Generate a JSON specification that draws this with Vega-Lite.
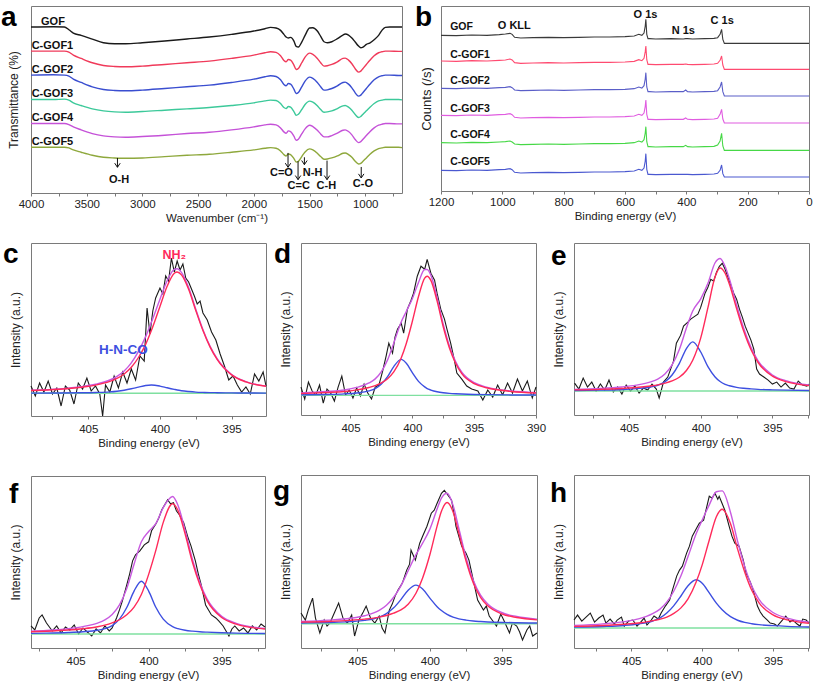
{
"$schema":"https://vega.github.io/schema/vega-lite/v6.json",
"background":"white",
"padding":{"left":0,"top":3,"right":0,"bottom":0},
"config":{
"font":"Liberation Sans",
"view":{"stroke":"#7a7a7a","strokeWidth":1},
"axisX":{"domain":false,"grid":false,"tickSize":3,"tickColor":"#777","labelFontSize":11.5,"labelColor":"#222","labelPadding":4,"titlePadding":3,"titleFontSize":11.5,"titleFontWeight":"normal","titleColor":"#222","labelFlush":false,"labelOverlap":false,"format":"d"},
"axisY":{"domain":false,"grid":false,"labels":false,"ticks":false,"titlePadding":9,"titleFontSize":12,"titleFontWeight":"normal","titleColor":"#222"}
},
"datasets":{
"ftir":[
{"w":4000,"G":497,"C1":425,"C2":353,"C3":280,"C4":208,"C5":137},
{"w":3800,"G":498,"C1":425,"C2":354,"C3":280,"C4":208,"C5":137},
{"w":3700,"G":497,"C1":425,"C2":353,"C3":281,"C4":208,"C5":137},
{"w":3660,"G":489,"C1":422,"C2":350,"C3":278,"C4":205,"C5":135},
{"w":3620,"G":479,"C1":413,"C2":341,"C3":270,"C4":198,"C5":129},
{"w":3550,"G":472,"C1":403,"C2":331,"C3":262,"C4":189,"C5":122},
{"w":3450,"G":461,"C1":390,"C2":318,"C3":252,"C4":178,"C5":113},
{"w":3350,"G":450,"C1":382,"C2":310,"C3":246,"C4":171,"C5":107},
{"w":3250,"G":447,"C1":379,"C2":307,"C3":243,"C4":168,"C5":105},
{"w":3150,"G":447,"C1":378,"C2":306,"C3":242,"C4":167,"C5":104},
{"w":3000,"G":450,"C1":380,"C2":308,"C3":244,"C4":169,"C5":105},
{"w":2800,"G":455,"C1":385,"C2":313,"C3":248,"C4":173,"C5":109},
{"w":2600,"G":461,"C1":390,"C2":318,"C3":252,"C4":178,"C5":113},
{"w":2400,"G":467,"C1":395,"C2":323,"C3":256,"C4":182,"C5":116},
{"w":2200,"G":475,"C1":403,"C2":331,"C3":262,"C4":189,"C5":122},
{"w":2000,"G":485,"C1":413,"C2":341,"C3":270,"C4":198,"C5":129},
{"w":1900,"G":492,"C1":420,"C2":348,"C3":276,"C4":204,"C5":134},
{"w":1850,"G":496,"C1":423,"C2":351,"C3":278,"C4":206,"C5":136},
{"w":1800,"G":494,"C1":421,"C2":349,"C3":277,"C4":204,"C5":134},
{"w":1760,"G":487,"C1":411,"C2":339,"C3":268,"C4":195,"C5":126},
{"w":1730,"G":475,"C1":397,"C2":325,"C3":256,"C4":183,"C5":115},
{"w":1710,"G":467,"C1":393,"C2":321,"C3":253,"C4":179,"C5":111},
{"w":1690,"G":464,"C1":400,"C2":328,"C3":259,"C4":186,"C5":117},
{"w":1670,"G":466,"C1":398,"C2":326,"C3":257,"C4":184,"C5":115},
{"w":1640,"G":455,"C1":383,"C2":311,"C3":244,"C4":170,"C5":103},
{"w":1620,"G":439,"C1":370,"C2":298,"C3":233,"C4":158,"C5":93},
{"w":1600,"G":437,"C1":373,"C2":301,"C3":236,"C4":161,"C5":95},
{"w":1570,"G":452,"C1":390,"C2":318,"C3":250,"C4":177,"C5":109},
{"w":1540,"G":472,"C1":407,"C2":335,"C3":265,"C4":192,"C5":123},
{"w":1500,"G":494,"C1":419,"C2":347,"C3":275,"C4":203,"C5":132},
{"w":1470,"G":495,"C1":415,"C2":343,"C3":272,"C4":199,"C5":129},
{"w":1430,"G":485,"C1":403,"C2":331,"C3":261,"C4":188,"C5":119},
{"w":1400,"G":469,"C1":390,"C2":318,"C3":250,"C4":177,"C5":109},
{"w":1370,"G":453,"C1":380,"C2":308,"C3":242,"C4":168,"C5":101},
{"w":1340,"G":450,"C1":381,"C2":309,"C3":243,"C4":168,"C5":102},
{"w":1300,"G":453,"C1":385,"C2":313,"C3":246,"C4":172,"C5":105},
{"w":1250,"G":462,"C1":393,"C2":321,"C3":253,"C4":179,"C5":111},
{"w":1200,"G":473,"C1":403,"C2":331,"C3":261,"C4":188,"C5":119},
{"w":1180,"G":476,"C1":404,"C2":332,"C3":262,"C4":189,"C5":120},
{"w":1150,"G":473,"C1":398,"C2":326,"C3":257,"C4":184,"C5":115},
{"w":1120,"G":464,"C1":387,"C2":315,"C3":248,"C4":174,"C5":107},
{"w":1090,"G":452,"C1":372,"C2":300,"C3":235,"C4":160,"C5":95},
{"w":1060,"G":440,"C1":362,"C2":290,"C3":226,"C4":151,"C5":87},
{"w":1040,"G":435,"C1":365,"C2":293,"C3":229,"C4":154,"C5":89},
{"w":1020,"G":437,"C1":373,"C2":301,"C3":236,"C4":161,"C5":95},
{"w":990,"G":445,"C1":385,"C2":313,"C3":246,"C4":172,"C5":105},
{"w":960,"G":449,"C1":397,"C2":325,"C3":256,"C4":183,"C5":115},
{"w":920,"G":459,"C1":411,"C2":339,"C3":268,"C4":195,"C5":126},
{"w":880,"G":472,"C1":420,"C2":348,"C3":276,"C4":203,"C5":133},
{"w":850,"G":487,"C1":423,"C2":351,"C3":278,"C4":206,"C5":135},
{"w":820,"G":496,"C1":425,"C2":353,"C3":280,"C4":208,"C5":137},
{"w":780,"G":497,"C1":425,"C2":353,"C3":280,"C4":208,"C5":137},
{"w":700,"G":497,"C1":424,"C2":352,"C3":280,"C4":207,"C5":137},
{"w":670,"G":497,"C1":424,"C2":352,"C3":279,"C4":207,"C5":136}
],
"lblA":[
{"w":3910,"t":503,"n":"GOF"},{"w":3994,"t":432,"n":"C-GOF1"},{"w":3994,"t":360,"n":"C-GOF2"},{"w":3994,"t":287,"n":"C-GOF3"},{"w":3994,"t":215,"n":"C-GOF4"},{"w":3994,"t":145,"n":"C-GOF5"}
],
"arrA":[
{"w":3224,"t":105,"t2":77},{"w":1693,"t":120,"t2":77},{"w":1603,"t":95,"t2":40},{"w":1546,"t":107,"t2":85},{"w":1343,"t":97,"t2":40},{"w":1036,"t":78,"t2":45}
],
"headA":[
{"w":3224,"t":77},{"w":1693,"t":77},{"w":1603,"t":40},{"w":1546,"t":85},{"w":1343,"t":40},{"w":1036,"t":45}
],
"albA":[
{"w":3210,"t":29,"n":"O-H"},{"w":1752,"t":50,"n":"C=O"},{"w":1597,"t":12,"n":"C=C"},{"w":1472,"t":50,"n":"N-H"},{"w":1349,"t":12,"n":"C-H"},{"w":1021,"t":19,"n":"C-O"}
],
"xps":[
{"e":1200,"G":467,"C1":390,"C2":308,"C3":227,"C4":145,"C5":62},
{"e":1150,"G":466,"C1":389,"C2":307,"C3":226,"C4":144,"C5":61},
{"e":1100,"G":468,"C1":391,"C2":309,"C3":228,"C4":146,"C5":63},
{"e":1050,"G":467,"C1":390,"C2":308,"C3":227,"C4":145,"C5":62},
{"e":1010,"G":469,"C1":392,"C2":310,"C3":229,"C4":147,"C5":64},
{"e":990,"G":471,"C1":393,"C2":311,"C3":230,"C4":148,"C5":65},
{"e":975,"G":473,"C1":396,"C2":313,"C3":232,"C4":150,"C5":67},
{"e":968,"G":470,"C1":393,"C2":310,"C3":229,"C4":147,"C5":64},
{"e":960,"G":461,"C1":385,"C2":303,"C3":221,"C4":141,"C5":56},
{"e":940,"G":459,"C1":383,"C2":301,"C3":219,"C4":139,"C5":54},
{"e":900,"G":460,"C1":384,"C2":302,"C3":220,"C4":140,"C5":55},
{"e":850,"G":461,"C1":385,"C2":303,"C3":221,"C4":141,"C5":56},
{"e":800,"G":460,"C1":384,"C2":302,"C3":220,"C4":140,"C5":55},
{"e":750,"G":461,"C1":385,"C2":303,"C3":221,"C4":141,"C5":56},
{"e":700,"G":462,"C1":386,"C2":304,"C3":222,"C4":142,"C5":57},
{"e":650,"G":462,"C1":386,"C2":304,"C3":222,"C4":142,"C5":57},
{"e":600,"G":463,"C1":387,"C2":305,"C3":223,"C4":143,"C5":58},
{"e":570,"G":465,"C1":389,"C2":307,"C3":225,"C4":145,"C5":60},
{"e":555,"G":470,"C1":394,"C2":312,"C3":230,"C4":150,"C5":65},
{"e":545,"G":467,"C1":391,"C2":309,"C3":227,"C4":147,"C5":62},
{"e":538,"G":474,"C1":398,"C2":316,"C3":234,"C4":154,"C5":69},
{"e":534,"G":495,"C1":418,"C2":336,"C3":254,"C4":174,"C5":90},
{"e":532,"G":515,"C1":435,"C2":355,"C3":273,"C4":193,"C5":112},
{"e":529,"G":470,"C1":394,"C2":312,"C3":230,"C4":148,"C5":65},
{"e":525,"G":457,"C1":380,"C2":298,"C3":215,"C4":133,"C5":50},
{"e":520,"G":457,"C1":380,"C2":298,"C3":215,"C4":133,"C5":50},
{"e":500,"G":456,"C1":379,"C2":297,"C3":214,"C4":132,"C5":49},
{"e":450,"G":457,"C1":380,"C2":298,"C3":215,"C4":133,"C5":50},
{"e":410,"G":456,"C1":380,"C2":298,"C3":215,"C4":133,"C5":50},
{"e":402,"G":457,"C1":381,"C2":303,"C3":219,"C4":137,"C5":50},
{"e":396,"G":457,"C1":380,"C2":298,"C3":215,"C4":133,"C5":50},
{"e":380,"G":456,"C1":379,"C2":297,"C3":214,"C4":132,"C5":49},
{"e":340,"G":457,"C1":380,"C2":298,"C3":215,"C4":133,"C5":50},
{"e":310,"G":458,"C1":381,"C2":299,"C3":216,"C4":134,"C5":51},
{"e":298,"G":460,"C1":383,"C2":301,"C3":218,"C4":138,"C5":53},
{"e":290,"G":470,"C1":392,"C2":312,"C3":230,"C4":150,"C5":62},
{"e":285,"G":485,"C1":405,"C2":327,"C3":245,"C4":173,"C5":78},
{"e":281,"G":455,"C1":378,"C2":298,"C3":216,"C4":135,"C5":52},
{"e":276,"G":443,"C1":365,"C2":285,"C3":204,"C4":122,"C5":42},
{"e":250,"G":443,"C1":365,"C2":285,"C3":204,"C4":122,"C5":42},
{"e":200,"G":443,"C1":365,"C2":285,"C3":204,"C4":122,"C5":42},
{"e":100,"G":443,"C1":365,"C2":285,"C3":204,"C4":122,"C5":42},
{"e":0,"G":443,"C1":365,"C2":285,"C3":204,"C4":122,"C5":42}
],
"lblB":[
{"e":1170,"t":482,"n":"GOF"},{"e":1170,"t":400,"n":"C-GOF1"},{"e":1170,"t":320,"n":"C-GOF2"},{"e":1170,"t":238,"n":"C-GOF3"},{"e":1170,"t":158,"n":"C-GOF4"},{"e":1170,"t":77,"n":"C-GOF5"}
],
"pkB":[
{"e":961,"t":485,"n":"O KLL"},{"e":533,"t":520,"n":"O 1s"},{"e":410,"t":470,"n":"N 1s"},{"e":283,"t":502,"n":"C 1s"}
],
"fit":[
{"p":"c","e":409,"s":25.7,"r":25.5,"b":22.9,"g":22.7},
{"p":"c","e":407,"s":27.1,"r":26.8,"b":23.0,"g":22.7},
{"p":"c","e":405.5,"s":29.3,"r":28.8,"b":23.2,"g":22.7},
{"p":"c","e":404.5,"s":31.7,"r":30.9,"b":23.5,"g":22.7},
{"p":"c","e":403.5,"s":36.0,"r":34.6,"b":24.1,"g":22.7},
{"p":"c","e":403,"s":39.7,"r":37.6,"b":24.8,"g":22.7},
{"p":"c","e":402.5,"s":45.1,"r":42.0,"b":25.8,"g":22.7},
{"p":"c","e":402,"s":53.2,"r":48.7,"b":27.2,"g":22.7},
{"p":"c","e":401.5,"s":64.7,"r":58.5,"b":28.9,"g":22.7},
{"p":"c","e":401,"s":79.4,"r":71.6,"b":30.5,"g":22.7},
{"p":"c","e":400.6,"s":93.7,"r":85.4,"b":31.0,"g":22.7},
{"p":"c","e":400,"s":116.8,"r":109.6,"b":29.9,"g":22.7},
{"p":"c","e":399.5,"s":135.2,"r":129.7,"b":28.2,"g":22.7},
{"p":"c","e":399,"s":146.7,"r":142.8,"b":26.6,"g":22.7},
{"p":"c","e":398.8,"s":147.3,"r":144.0,"b":26.0,"g":22.7},
{"p":"c","e":398.5,"s":143.7,"r":141.1,"b":25.3,"g":22.7},
{"p":"c","e":398,"s":128.5,"r":126.7,"b":24.5,"g":22.7},
{"p":"c","e":397.5,"s":106.7,"r":105.5,"b":23.9,"g":22.7},
{"p":"c","e":397,"s":86.3,"r":85.4,"b":23.6,"g":22.7},
{"p":"c","e":396.5,"s":69.6,"r":68.9,"b":23.4,"g":22.7},
{"p":"c","e":396,"s":57.0,"r":56.4,"b":23.3,"g":22.7},
{"p":"c","e":395,"s":41.5,"r":41.1,"b":23.1,"g":22.7},
{"p":"c","e":394,"s":34.4,"r":34.1,"b":23.0,"g":22.7},
{"p":"c","e":392.6,"s":29.9,"r":29.7,"b":22.9,"g":22.7},
{"p":"d","e":409,"s":22.0,"r":21.5,"b":20.2,"g":19.7},
{"p":"d","e":407,"s":23.5,"r":22.6,"b":20.6,"g":19.7},
{"p":"d","e":405.5,"s":25.1,"r":23.6,"b":21.2,"g":19.7},
{"p":"d","e":404.5,"s":27.6,"r":25.2,"b":22.1,"g":19.7},
{"p":"d","e":403.5,"s":32.1,"r":27.6,"b":24.2,"g":19.7},
{"p":"d","e":403,"s":36.2,"r":29.4,"b":26.5,"g":19.7},
{"p":"d","e":402.5,"s":43.5,"r":32.1,"b":31.1,"g":19.7},
{"p":"d","e":402,"s":55.2,"r":36.4,"b":38.5,"g":19.7},
{"p":"d","e":401.5,"s":72.0,"r":43.2,"b":48.5,"g":19.7},
{"p":"d","e":400.9,"s":93.2,"r":57.2,"b":55.7,"g":19.7},
{"p":"d","e":400.5,"s":103.5,"r":71.2,"b":52.0,"g":19.7},
{"p":"d","e":400,"s":116.5,"r":93.7,"b":42.5,"g":19.7},
{"p":"d","e":399.5,"s":132.7,"r":118.7,"b":33.7,"g":19.7},
{"p":"d","e":399,"s":145.7,"r":137.2,"b":28.2,"g":19.7},
{"p":"d","e":398.8,"s":145.8,"r":139.0,"b":26.5,"g":19.7},
{"p":"d","e":398.5,"s":140.1,"r":134.8,"b":25.0,"g":19.7},
{"p":"d","e":398,"s":117.9,"r":114.3,"b":23.3,"g":19.7},
{"p":"d","e":397.5,"s":91.0,"r":88.4,"b":22.3,"g":19.7},
{"p":"d","e":397,"s":69.2,"r":67.2,"b":21.7,"g":19.7},
{"p":"d","e":396.5,"s":53.5,"r":51.9,"b":21.3,"g":19.7},
{"p":"d","e":396,"s":42.8,"r":41.5,"b":21.0,"g":19.7},
{"p":"d","e":395,"s":32.4,"r":31.5,"b":20.6,"g":19.7},
{"p":"d","e":394,"s":28.0,"r":27.3,"b":20.4,"g":19.7},
{"p":"d","e":392,"s":24.0,"r":23.6,"b":20.1,"g":19.7},
{"p":"d","e":390,"s":22.4,"r":22.1,"b":20.0,"g":19.7},
{"p":"e","e":408.8,"s":25.7,"r":25.2,"b":24.5,"g":24},
{"p":"e","e":407,"s":26.6,"r":25.7,"b":24.9,"g":24},
{"p":"e","e":405.5,"s":28.1,"r":26.6,"b":25.5,"g":24},
{"p":"e","e":404.5,"s":29.9,"r":27.5,"b":26.4,"g":24},
{"p":"e","e":403.5,"s":33.1,"r":29.1,"b":28.0,"g":24},
{"p":"e","e":403,"s":36.0,"r":30.2,"b":29.8,"g":24},
{"p":"e","e":402.5,"s":41.1,"r":31.9,"b":33.2,"g":24},
{"p":"e","e":402,"s":50.2,"r":34.1,"b":40.1,"g":24},
{"p":"e","e":401.5,"s":65.3,"r":37.8,"b":51.5,"g":24},
{"p":"e","e":401,"s":87.1,"r":44.6,"b":66.5,"g":24},
{"p":"e","e":400.56,"s":104.2,"r":54.9,"b":73.3,"g":24},
{"p":"e","e":400,"s":116.4,"r":77.3,"b":63.1,"g":24},
{"p":"e","e":399.5,"s":131.9,"r":107.5,"b":48.4,"g":24},
{"p":"e","e":399,"s":152.5,"r":138.4,"b":38.1,"g":24},
{"p":"e","e":398.65,"s":156.8,"r":147.3,"b":33.5,"g":24},
{"p":"e","e":398.3,"s":148.8,"r":142.1,"b":30.7,"g":24},
{"p":"e","e":398,"s":136.2,"r":130.9,"b":29.3,"g":24},
{"p":"e","e":397.5,"s":110.3,"r":106.6,"b":27.7,"g":24},
{"p":"e","e":397,"s":86.6,"r":83.8,"b":26.8,"g":24},
{"p":"e","e":396.5,"s":67.8,"r":65.6,"b":26.2,"g":24},
{"p":"e","e":396,"s":54.3,"r":52.6,"b":25.7,"g":24},
{"p":"e","e":395,"s":40.1,"r":38.9,"b":25.2,"g":24},
{"p":"e","e":394,"s":34.1,"r":33.2,"b":24.9,"g":24},
{"p":"e","e":392.45,"s":30.0,"r":29.4,"b":24.6,"g":24},
{"p":"f","e":408.06,"s":16.8,"r":16.2,"b":14.6,"g":14},
{"p":"f","e":407,"s":17.5,"r":16.7,"b":14.8,"g":14},
{"p":"f","e":405.5,"s":19.3,"r":17.9,"b":15.4,"g":14},
{"p":"f","e":404.5,"s":21.4,"r":19.2,"b":16.2,"g":14},
{"p":"f","e":403.5,"s":24.9,"r":21.2,"b":17.7,"g":14},
{"p":"f","e":403,"s":28.1,"r":22.8,"b":19.3,"g":14},
{"p":"f","e":402.5,"s":33.5,"r":25.1,"b":22.4,"g":14},
{"p":"f","e":402,"s":43.0,"r":28.2,"b":28.8,"g":14},
{"p":"f","e":401.5,"s":59.5,"r":33.1,"b":40.4,"g":14},
{"p":"f","e":401,"s":83.6,"r":40.8,"b":56.8,"g":14},
{"p":"f","e":400.5,"s":106.1,"r":53.4,"b":66.7,"g":14},
{"p":"f","e":400,"s":116.3,"r":73.5,"b":56.8,"g":14},
{"p":"f","e":399.5,"s":124.3,"r":97.9,"b":40.4,"g":14},
{"p":"f","e":399,"s":140.2,"r":125.4,"b":28.8,"g":14},
{"p":"f","e":398.36,"s":151.3,"r":144.0,"b":21.3,"g":14},
{"p":"f","e":398,"s":142.8,"r":137.5,"b":19.3,"g":14},
{"p":"f","e":397.5,"s":117.4,"r":113.7,"b":17.7,"g":14},
{"p":"f","e":397,"s":88.4,"r":85.6,"b":16.8,"g":14},
{"p":"f","e":396.5,"s":65.7,"r":63.5,"b":16.2,"g":14},
{"p":"f","e":396,"s":49.1,"r":47.3,"b":15.8,"g":14},
{"p":"f","e":395,"s":31.6,"r":30.4,"b":15.2,"g":14},
{"p":"f","e":394,"s":24.6,"r":23.8,"b":14.8,"g":14},
{"p":"f","e":392.03,"s":19.4,"r":18.9,"b":14.5,"g":14},
{"p":"g","e":408.9,"s":26.6,"r":25.9,"b":25.0,"g":24.3},
{"p":"g","e":407,"s":27.9,"r":26.6,"b":25.6,"g":24.3},
{"p":"g","e":405.5,"s":29.8,"r":27.7,"b":26.4,"g":24.3},
{"p":"g","e":404.5,"s":32.3,"r":28.9,"b":27.7,"g":24.3},
{"p":"g","e":403.5,"s":37.6,"r":30.9,"b":31.0,"g":24.3},
{"p":"g","e":403,"s":42.8,"r":32.6,"b":34.5,"g":24.3},
{"p":"g","e":402.5,"s":50.8,"r":34.9,"b":40.2,"g":24.3},
{"p":"g","e":402,"s":62.3,"r":38.1,"b":48.5,"g":24.3},
{"p":"g","e":401.5,"s":77.4,"r":43.8,"b":57.9,"g":24.3},
{"p":"g","e":400.96,"s":93.5,"r":54.8,"b":63.0,"g":24.3},
{"p":"g","e":400.5,"s":105.0,"r":70.2,"b":59.1,"g":24.3},
{"p":"g","e":400,"s":119.1,"r":93.4,"b":50.0,"g":24.3},
{"p":"g","e":399.5,"s":139.2,"r":122.1,"b":41.4,"g":24.3},
{"p":"g","e":399.2,"s":150.2,"r":137.0,"b":37.5,"g":24.3},
{"p":"g","e":398.81,"s":155.0,"r":145.7,"b":33.6,"g":24.3},
{"p":"g","e":398.4,"s":143.1,"r":136.5,"b":30.9,"g":24.3},
{"p":"g","e":398,"s":120.0,"r":115.1,"b":29.2,"g":24.3},
{"p":"g","e":397.5,"s":90.7,"r":87.1,"b":27.9,"g":24.3},
{"p":"g","e":397,"s":67.9,"r":65.2,"b":27.0,"g":24.3},
{"p":"g","e":396.5,"s":53.0,"r":50.8,"b":26.5,"g":24.3},
{"p":"g","e":396,"s":44.1,"r":42.3,"b":26.1,"g":24.3},
{"p":"g","e":395,"s":35.3,"r":34.0,"b":25.6,"g":24.3},
{"p":"g","e":394,"s":31.6,"r":30.6,"b":25.3,"g":24.3},
{"p":"g","e":392.6,"s":28.9,"r":28.2,"b":25.0,"g":24.3},
{"p":"h","e":409.05,"s":22.7,"r":21.7,"b":21.0,"g":20},
{"p":"h","e":407,"s":24.2,"r":22.6,"b":21.6,"g":20},
{"p":"h","e":405.5,"s":26.4,"r":23.8,"b":22.6,"g":20},
{"p":"h","e":404.5,"s":29.1,"r":25.0,"b":24.1,"g":20},
{"p":"h","e":403.5,"s":34.4,"r":27.4,"b":27.0,"g":20},
{"p":"h","e":403,"s":38.7,"r":28.8,"b":29.9,"g":20},
{"p":"h","e":402.5,"s":45.9,"r":30.9,"b":35.0,"g":20},
{"p":"h","e":402,"s":57.1,"r":34.6,"b":42.5,"g":20},
{"p":"h","e":401.5,"s":72.3,"r":40.2,"b":52.1,"g":20},
{"p":"h","e":401,"s":91.6,"r":49.2,"b":62.4,"g":20},
{"p":"h","e":400.42,"s":114.6,"r":66.3,"b":68.3,"g":20},
{"p":"h","e":400,"s":128.1,"r":83.3,"b":64.8,"g":20},
{"p":"h","e":399.5,"s":143.4,"r":108.2,"b":55.2,"g":20},
{"p":"h","e":399,"s":156.5,"r":131.5,"b":45.0,"g":20},
{"p":"h","e":398.59,"s":157.4,"r":139.0,"b":38.4,"g":20},
{"p":"h","e":398,"s":135.8,"r":124.4,"b":31.4,"g":20},
{"p":"h","e":397.5,"s":106.8,"r":99.0,"b":27.8,"g":20},
{"p":"h","e":397,"s":81.8,"r":76.2,"b":25.6,"g":20},
{"p":"h","e":396.5,"s":62.1,"r":57.8,"b":24.3,"g":20},
{"p":"h","e":396,"s":48.9,"r":45.5,"b":23.4,"g":20},
{"p":"h","e":395,"s":35.6,"r":33.2,"b":22.4,"g":20},
{"p":"h","e":394,"s":29.9,"r":28.2,"b":21.7,"g":20},
{"p":"h","e":392.46,"s":25.9,"r":24.8,"b":21.1,"g":20}
],
"raw":[
{"p":"c","e":409.0,"v":30},{"p":"c","e":408.7,"v":20},{"p":"c","e":408.4,"v":33},{"p":"c","e":408.1,"v":24},{"p":"c","e":407.8,"v":35},{"p":"c","e":407.5,"v":22},{"p":"c","e":407.2,"v":28},{"p":"c","e":406.9,"v":10},{"p":"c","e":406.6,"v":30},{"p":"c","e":406.3,"v":26},{"p":"c","e":406.0,"v":12},{"p":"c","e":405.7,"v":33},{"p":"c","e":405.4,"v":27},{"p":"c","e":405.1,"v":38},{"p":"c","e":404.8,"v":25},{"p":"c","e":404.5,"v":30},{"p":"c","e":404.2,"v":22},{"p":"c","e":404.0,"v":0},{"p":"c","e":403.8,"v":31},{"p":"c","e":403.5,"v":24},{"p":"c","e":403.2,"v":40},{"p":"c","e":402.9,"v":28},{"p":"c","e":402.6,"v":44},{"p":"c","e":402.3,"v":33},{"p":"c","e":402.0,"v":47},{"p":"c","e":401.7,"v":36},{"p":"c","e":401.4,"v":60},{"p":"c","e":401.1,"v":55},{"p":"c","e":400.9,"v":108},{"p":"c","e":400.7,"v":82},{"p":"c","e":400.5,"v":105},{"p":"c","e":400.3,"v":118},{"p":"c","e":400.0,"v":128},{"p":"c","e":399.8,"v":122},{"p":"c","e":399.6,"v":140},{"p":"c","e":399.4,"v":135},{"p":"c","e":399.2,"v":158},{"p":"c","e":399.0,"v":144},{"p":"c","e":398.8,"v":155},{"p":"c","e":398.6,"v":146},{"p":"c","e":398.4,"v":152},{"p":"c","e":398.2,"v":138},{"p":"c","e":398.0,"v":134},{"p":"c","e":397.8,"v":127},{"p":"c","e":397.6,"v":120},{"p":"c","e":397.4,"v":112},{"p":"c","e":397.2,"v":115},{"p":"c","e":397.0,"v":103},{"p":"c","e":396.7,"v":96},{"p":"c","e":396.4,"v":84},{"p":"c","e":396.1,"v":76},{"p":"c","e":395.8,"v":62},{"p":"c","e":395.5,"v":50},{"p":"c","e":395.2,"v":36},{"p":"c","e":394.9,"v":40},{"p":"c","e":394.6,"v":31},{"p":"c","e":394.3,"v":24},{"p":"c","e":394.0,"v":29},{"p":"c","e":393.7,"v":22},{"p":"c","e":393.4,"v":42},{"p":"c","e":393.1,"v":35},{"p":"c","e":392.8,"v":44},{"p":"c","e":392.6,"v":30},
{"p":"d","e":409.0,"v":28},{"p":"d","e":408.7,"v":16},{"p":"d","e":408.4,"v":33},{"p":"d","e":408.1,"v":24},{"p":"d","e":407.8,"v":20},{"p":"d","e":407.5,"v":30},{"p":"d","e":407.2,"v":12},{"p":"d","e":406.9,"v":26},{"p":"d","e":406.6,"v":22},{"p":"d","e":406.3,"v":14},{"p":"d","e":406.0,"v":28},{"p":"d","e":405.7,"v":39},{"p":"d","e":405.4,"v":20},{"p":"d","e":405.1,"v":25},{"p":"d","e":404.8,"v":17},{"p":"d","e":404.5,"v":27},{"p":"d","e":404.2,"v":19},{"p":"d","e":403.9,"v":31},{"p":"d","e":403.6,"v":22},{"p":"d","e":403.3,"v":16},{"p":"d","e":403.0,"v":28},{"p":"d","e":402.7,"v":30},{"p":"d","e":402.4,"v":44},{"p":"d","e":402.1,"v":60},{"p":"d","e":401.9,"v":72},{"p":"d","e":401.6,"v":62},{"p":"d","e":401.4,"v":78},{"p":"d","e":401.2,"v":86},{"p":"d","e":400.9,"v":92},{"p":"d","e":400.7,"v":82},{"p":"d","e":400.4,"v":106},{"p":"d","e":400.1,"v":115},{"p":"d","e":399.9,"v":122},{"p":"d","e":399.6,"v":139},{"p":"d","e":399.3,"v":149},{"p":"d","e":399.0,"v":146},{"p":"d","e":398.8,"v":156},{"p":"d","e":398.5,"v":142},{"p":"d","e":398.2,"v":135},{"p":"d","e":398.0,"v":122},{"p":"d","e":397.7,"v":106},{"p":"d","e":397.4,"v":96},{"p":"d","e":397.2,"v":86},{"p":"d","e":396.9,"v":72},{"p":"d","e":396.6,"v":55},{"p":"d","e":396.4,"v":42},{"p":"d","e":396.0,"v":36},{"p":"d","e":395.6,"v":29},{"p":"d","e":395.2,"v":26},{"p":"d","e":394.7,"v":24},{"p":"d","e":394.3,"v":15},{"p":"d","e":393.9,"v":25},{"p":"d","e":393.5,"v":18},{"p":"d","e":393.1,"v":30},{"p":"d","e":392.7,"v":20},{"p":"d","e":392.3,"v":32},{"p":"d","e":391.9,"v":22},{"p":"d","e":391.5,"v":36},{"p":"d","e":391.1,"v":24},{"p":"d","e":390.7,"v":34},{"p":"d","e":390.3,"v":17},{"p":"d","e":390.0,"v":28},
{"p":"e","e":408.8,"v":32},{"p":"e","e":408.5,"v":26},{"p":"e","e":408.2,"v":37},{"p":"e","e":407.9,"v":28},{"p":"e","e":407.6,"v":33},{"p":"e","e":407.3,"v":24},{"p":"e","e":407.0,"v":31},{"p":"e","e":406.7,"v":25},{"p":"e","e":406.4,"v":35},{"p":"e","e":406.1,"v":23},{"p":"e","e":405.8,"v":28},{"p":"e","e":405.5,"v":21},{"p":"e","e":405.2,"v":30},{"p":"e","e":404.9,"v":24},{"p":"e","e":404.6,"v":29},{"p":"e","e":404.3,"v":22},{"p":"e","e":404.0,"v":27},{"p":"e","e":403.7,"v":25},{"p":"e","e":403.4,"v":31},{"p":"e","e":403.1,"v":26},{"p":"e","e":402.9,"v":17},{"p":"e","e":402.6,"v":33},{"p":"e","e":402.3,"v":38},{"p":"e","e":402.1,"v":46},{"p":"e","e":401.9,"v":54},{"p":"e","e":401.7,"v":72},{"p":"e","e":401.4,"v":80},{"p":"e","e":401.2,"v":89},{"p":"e","e":400.9,"v":93},{"p":"e","e":400.7,"v":96},{"p":"e","e":400.4,"v":99},{"p":"e","e":400.2,"v":101},{"p":"e","e":400.0,"v":108},{"p":"e","e":399.7,"v":122},{"p":"e","e":399.5,"v":128},{"p":"e","e":399.3,"v":136},{"p":"e","e":399.1,"v":134},{"p":"e","e":398.9,"v":143},{"p":"e","e":398.7,"v":149},{"p":"e","e":398.5,"v":152},{"p":"e","e":398.3,"v":146},{"p":"e","e":398.1,"v":138},{"p":"e","e":397.9,"v":130},{"p":"e","e":397.7,"v":122},{"p":"e","e":397.5,"v":116},{"p":"e","e":397.3,"v":106},{"p":"e","e":397.1,"v":98},{"p":"e","e":396.9,"v":89},{"p":"e","e":396.7,"v":82},{"p":"e","e":396.5,"v":75},{"p":"e","e":396.3,"v":66},{"p":"e","e":396.1,"v":46},{"p":"e","e":395.9,"v":41},{"p":"e","e":395.6,"v":38},{"p":"e","e":395.3,"v":35},{"p":"e","e":395.0,"v":31},{"p":"e","e":394.7,"v":33},{"p":"e","e":394.4,"v":28},{"p":"e","e":394.1,"v":32},{"p":"e","e":393.8,"v":27},{"p":"e","e":393.5,"v":26},{"p":"e","e":393.2,"v":34},{"p":"e","e":392.9,"v":30},{"p":"e","e":392.6,"v":29},{"p":"e","e":392.45,"v":31},
{"p":"f","e":408.06,"v":22},{"p":"f","e":407.8,"v":18},{"p":"f","e":407.5,"v":30},{"p":"f","e":407.3,"v":33},{"p":"f","e":407.0,"v":25},{"p":"f","e":406.8,"v":21},{"p":"f","e":406.6,"v":17},{"p":"f","e":406.3,"v":22},{"p":"f","e":406.0,"v":15},{"p":"f","e":405.7,"v":21},{"p":"f","e":405.4,"v":18},{"p":"f","e":405.1,"v":23},{"p":"f","e":404.8,"v":14},{"p":"f","e":404.5,"v":20},{"p":"f","e":404.2,"v":16},{"p":"f","e":403.9,"v":12},{"p":"f","e":403.6,"v":19},{"p":"f","e":403.3,"v":15},{"p":"f","e":403.0,"v":22},{"p":"f","e":402.7,"v":17},{"p":"f","e":402.5,"v":20},{"p":"f","e":402.2,"v":30},{"p":"f","e":402.0,"v":38},{"p":"f","e":401.8,"v":47},{"p":"f","e":401.5,"v":63},{"p":"f","e":401.3,"v":74},{"p":"f","e":401.1,"v":87},{"p":"f","e":400.9,"v":93},{"p":"f","e":400.6,"v":97},{"p":"f","e":400.3,"v":103},{"p":"f","e":400.0,"v":106},{"p":"f","e":399.8,"v":117},{"p":"f","e":399.5,"v":124},{"p":"f","e":399.3,"v":130},{"p":"f","e":399.1,"v":138},{"p":"f","e":398.9,"v":143},{"p":"f","e":398.7,"v":148},{"p":"f","e":398.5,"v":144},{"p":"f","e":398.3,"v":145},{"p":"f","e":398.1,"v":137},{"p":"f","e":397.9,"v":133},{"p":"f","e":397.6,"v":125},{"p":"f","e":397.3,"v":110},{"p":"f","e":397.1,"v":102},{"p":"f","e":396.8,"v":87},{"p":"f","e":396.6,"v":74},{"p":"f","e":396.4,"v":63},{"p":"f","e":396.1,"v":43},{"p":"f","e":395.9,"v":38},{"p":"f","e":395.7,"v":33},{"p":"f","e":395.4,"v":30},{"p":"f","e":395.2,"v":27},{"p":"f","e":394.9,"v":22},{"p":"f","e":394.7,"v":17},{"p":"f","e":394.5,"v":12},{"p":"f","e":394.3,"v":19},{"p":"f","e":394.1,"v":22},{"p":"f","e":393.8,"v":17},{"p":"f","e":393.5,"v":20},{"p":"f","e":393.2,"v":15},{"p":"f","e":392.9,"v":22},{"p":"f","e":392.6,"v":18},{"p":"f","e":392.3,"v":24},{"p":"f","e":392.03,"v":21},
{"p":"g","e":408.9,"v":35},{"p":"g","e":408.6,"v":28},{"p":"g","e":408.4,"v":38},{"p":"g","e":408.1,"v":50},{"p":"g","e":407.9,"v":30},{"p":"g","e":407.6,"v":15},{"p":"g","e":407.3,"v":28},{"p":"g","e":407.1,"v":22},{"p":"g","e":406.9,"v":25},{"p":"g","e":406.6,"v":35},{"p":"g","e":406.3,"v":45},{"p":"g","e":406.0,"v":30},{"p":"g","e":405.7,"v":25},{"p":"g","e":405.4,"v":33},{"p":"g","e":405.2,"v":12},{"p":"g","e":404.9,"v":28},{"p":"g","e":404.6,"v":36},{"p":"g","e":404.4,"v":42},{"p":"g","e":404.1,"v":30},{"p":"g","e":403.8,"v":25},{"p":"g","e":403.5,"v":32},{"p":"g","e":403.3,"v":20},{"p":"g","e":403.1,"v":15},{"p":"g","e":402.8,"v":38},{"p":"g","e":402.6,"v":44},{"p":"g","e":402.4,"v":52},{"p":"g","e":402.2,"v":58},{"p":"g","e":401.9,"v":65},{"p":"g","e":401.6,"v":78},{"p":"g","e":401.4,"v":84},{"p":"g","e":401.3,"v":98},{"p":"g","e":401.0,"v":88},{"p":"g","e":400.7,"v":105},{"p":"g","e":400.5,"v":112},{"p":"g","e":400.2,"v":122},{"p":"g","e":399.9,"v":135},{"p":"g","e":399.7,"v":138},{"p":"g","e":399.5,"v":145},{"p":"g","e":399.2,"v":155},{"p":"g","e":399.0,"v":158},{"p":"g","e":398.7,"v":152},{"p":"g","e":398.5,"v":148},{"p":"g","e":398.3,"v":132},{"p":"g","e":398.2,"v":122},{"p":"g","e":397.8,"v":102},{"p":"g","e":397.5,"v":95},{"p":"g","e":397.3,"v":88},{"p":"g","e":397.0,"v":68},{"p":"g","e":396.7,"v":48},{"p":"g","e":396.3,"v":38},{"p":"g","e":396.1,"v":42},{"p":"g","e":395.9,"v":32},{"p":"g","e":395.6,"v":26},{"p":"g","e":395.4,"v":22},{"p":"g","e":395.1,"v":34},{"p":"g","e":394.9,"v":28},{"p":"g","e":394.5,"v":15},{"p":"g","e":394.3,"v":25},{"p":"g","e":394.0,"v":22},{"p":"g","e":393.8,"v":16},{"p":"g","e":393.6,"v":8},{"p":"g","e":393.3,"v":18},{"p":"g","e":393.1,"v":22},{"p":"g","e":392.9,"v":12},{"p":"g","e":392.6,"v":15},
{"p":"h","e":409.05,"v":28},{"p":"h","e":408.8,"v":33},{"p":"h","e":408.5,"v":27},{"p":"h","e":408.2,"v":31},{"p":"h","e":407.9,"v":35},{"p":"h","e":407.6,"v":26},{"p":"h","e":407.3,"v":30},{"p":"h","e":407.0,"v":33},{"p":"h","e":406.8,"v":25},{"p":"h","e":406.5,"v":29},{"p":"h","e":406.2,"v":24},{"p":"h","e":406.0,"v":28},{"p":"h","e":405.7,"v":31},{"p":"h","e":405.5,"v":22},{"p":"h","e":405.2,"v":27},{"p":"h","e":404.9,"v":28},{"p":"h","e":404.6,"v":22},{"p":"h","e":404.4,"v":25},{"p":"h","e":404.1,"v":30},{"p":"h","e":403.9,"v":23},{"p":"h","e":403.6,"v":28},{"p":"h","e":403.4,"v":32},{"p":"h","e":403.1,"v":29},{"p":"h","e":402.9,"v":35},{"p":"h","e":402.6,"v":42},{"p":"h","e":402.3,"v":48},{"p":"h","e":402.1,"v":58},{"p":"h","e":401.8,"v":72},{"p":"h","e":401.6,"v":78},{"p":"h","e":401.4,"v":82},{"p":"h","e":401.1,"v":95},{"p":"h","e":400.9,"v":102},{"p":"h","e":400.7,"v":112},{"p":"h","e":400.4,"v":120},{"p":"h","e":400.2,"v":125},{"p":"h","e":399.9,"v":128},{"p":"h","e":399.7,"v":140},{"p":"h","e":399.5,"v":152},{"p":"h","e":399.3,"v":150},{"p":"h","e":399.1,"v":155},{"p":"h","e":398.9,"v":149},{"p":"h","e":398.8,"v":152},{"p":"h","e":398.6,"v":145},{"p":"h","e":398.4,"v":138},{"p":"h","e":398.1,"v":122},{"p":"h","e":397.9,"v":112},{"p":"h","e":397.7,"v":105},{"p":"h","e":397.4,"v":102},{"p":"h","e":397.1,"v":88},{"p":"h","e":396.9,"v":75},{"p":"h","e":396.6,"v":66},{"p":"h","e":396.4,"v":58},{"p":"h","e":396.1,"v":42},{"p":"h","e":395.9,"v":36},{"p":"h","e":395.7,"v":32},{"p":"h","e":395.4,"v":28},{"p":"h","e":395.2,"v":25},{"p":"h","e":394.9,"v":24},{"p":"h","e":394.7,"v":22},{"p":"h","e":394.4,"v":27},{"p":"h","e":394.1,"v":32},{"p":"h","e":393.8,"v":26},{"p":"h","e":393.6,"v":28},{"p":"h","e":393.3,"v":24},{"p":"h","e":393.1,"v":22},{"p":"h","e":392.9,"v":29},{"p":"h","e":392.66,"v":28},{"p":"h","e":392.46,"v":25}
]
},
"resolve":{"scale":{"color":"independent"}},
"spacing":15,
"vconcat":[
{"hconcat":[
{"width":371,"height":187,
"encoding":{
"x":{"field":"w","type":"quantitative","scale":{"domain":[4000,670],"nice":false,"zero":false},"axis":{"values":[4000,3750,3500,3250,3000,2750,2500,2250,2000,1750,1500,1250,1000,750],"labelExpr":"datum.value % 500 === 0 ? datum.label : ''","labelPadding":2,"titlePadding":3},"title":"Wavenumber (cm⁻¹)"},
"y":{"field":"t","type":"quantitative","scale":{"domain":[0,560],"nice":false,"zero":false},"axis":{"titlePadding":11},"title":"Transmittance (%)"}},
"layer":[
{"data":{"name":"ftir"},"transform":[{"fold":["G","C1","C2","C3","C4","C5"],"as":["s","t"]}],
"mark":{"type":"line","strokeWidth":1.4,"interpolate":"monotone"},
"encoding":{"color":{"field":"s","type":"nominal","scale":{"domain":["G","C1","C2","C3","C4","C5"],"range":["#1a1a1a","#f03a5a","#3a4ed0","#3cc99a","#c552d8","#8ea83c"]},"legend":null}}},
{"data":{"name":"lblA"},"mark":{"type":"text","align":"left","baseline":"alphabetic","fontSize":11,"fontWeight":"bold","color":"#111"},"encoding":{"text":{"field":"n"}}},
{"data":{"name":"arrA"},"mark":{"type":"rule","color":"#111","strokeWidth":1},"encoding":{"y2":{"field":"t2"}}},
{"data":{"name":"headA"},"mark":{"type":"point","shape":"M-1,-1.5L0,0L1,-1.5","size":30,"filled":false,"color":"#111","strokeWidth":1,"opacity":1},"encoding":{}},
{"data":{"name":"albA"},"mark":{"type":"text","align":"center","baseline":"alphabetic","fontSize":11,"fontWeight":"bold","color":"#111"},"encoding":{"text":{"field":"n"}}},
{"data":{"values":[{"w":4269,"t":500,"n":"a"}]},"mark":{"type":"text","align":"left","baseline":"alphabetic","fontSize":28,"fontWeight":"bold","color":"#000"},"encoding":{"text":{"field":"n"}}}
]},
{"width":368,"height":185,
"encoding":{
"x":{"field":"e","type":"quantitative","scale":{"domain":[1200,0],"nice":false,"zero":false},"axis":{"values":[1200,1100,1000,900,800,700,600,500,400,300,200,100,0],"labelExpr":"datum.value % 200 === 0 ? datum.label : ''","labelPadding":2,"titlePadding":3},"title":"Binding energy (eV)"},
"y":{"field":"t","type":"quantitative","scale":{"domain":[0,555],"nice":false,"zero":false},"axis":{"titlePadding":8,"titleFontSize":13},"title":"Counts (/s)"}},
"layer":[
{"data":{"name":"xps"},"transform":[{"fold":["G","C1","C2","C3","C4","C5"],"as":["s","t"]}],
"mark":{"type":"line","strokeWidth":1.1},
"encoding":{"color":{"field":"s","type":"nominal","scale":{"domain":["G","C1","C2","C3","C4","C5"],"range":["#3a3a3a","#ff4a70","#5a5ec8","#e05ce0","#46d846","#4a58d0"]},"legend":null}}},
{"data":{"name":"lblB"},"mark":{"type":"text","align":"left","baseline":"alphabetic","fontSize":10.5,"fontWeight":"bold","color":"#111"},"encoding":{"text":{"field":"n"}}},
{"data":{"name":"pkB"},"mark":{"type":"text","align":"center","baseline":"alphabetic","fontSize":11,"fontWeight":"bold","color":"#111"},"encoding":{"text":{"field":"n"}}},
{"data":{"values":[{"e":1285,"t":495,"n":"b"}]},"mark":{"type":"text","align":"left","baseline":"alphabetic","fontSize":28,"fontWeight":"bold","color":"#000"},"encoding":{"text":{"field":"n"}}}
]}
],"spacing":8,"resolve":{"scale":{"color":"independent"}}},
{"hconcat":[
{"vconcat":[
{"width":235,"height":173,
"encoding":{"x":{"field":"e","type":"quantitative","scale":{"domain":[409,392.6],"nice":false,"zero":false},"axis":{"values":[407.5,405,402.5,400,397.5,395],"labelExpr":"datum.value % 5 === 0 ? datum.label : ''"},"title":"Binding energy (eV)"},
"y":{"field":"v","type":"quantitative","scale":{"domain":[0,173],"nice":false,"zero":false},"title":"Intensity (a.u.)"}},
"layer":[
{"data":{"name":"raw"},"transform":[{"filter":"datum.p === 'c'"}],"mark":{"type":"line","color":"#1a1a1a","strokeWidth":1.1}},
{"data":{"name":"fit"},"transform":[{"filter":"datum.p === 'c'"},{"fold":["g","b","s","r"],"as":["k","v"]}],"mark":{"type":"line","strokeWidth":1.4,"interpolate":"monotone"},
"encoding":{"color":{"field":"k","type":"nominal","scale":{"domain":["g","b","s","r"],"range":["#7fe0a0","#3d4fe0","#c85ae0","#ff2a5a"]},"legend":null}}},
{"data":{"values":[{"e":399.0,"v":157,"n":"NH₂"}]},"mark":{"type":"text","align":"center","baseline":"alphabetic","fontSize":12.5,"fontWeight":"bold","color":"#ff2a5a"},"encoding":{"text":{"field":"n"}}},
{"data":{"values":[{"e":402.55,"v":62,"n":"H-N-CO"}]},"mark":{"type":"text","align":"center","baseline":"alphabetic","fontSize":13.5,"fontWeight":"bold","color":"#3d4fe0"},"encoding":{"text":{"field":"n"}}},
{"data":{"values":[{"e":410.95,"v":153,"n":"c"}]},"mark":{"type":"text","align":"left","baseline":"alphabetic","fontSize":28,"fontWeight":"bold","color":"#000"},"encoding":{"text":{"field":"n"}}}
]},
{"width":234,"height":172,
"encoding":{"x":{"field":"e","type":"quantitative","scale":{"domain":[408.06,392.03],"nice":false,"zero":false},"axis":{"values":[407.5,405,402.5,400,397.5,395,392.5],"labelExpr":"datum.value % 5 === 0 ? datum.label : ''"},"title":"Binding energy (eV)"},
"y":{"field":"v","type":"quantitative","scale":{"domain":[0,171.7],"nice":false,"zero":false},"title":"Intensity (a.u.)"}},
"layer":[
{"data":{"name":"raw"},"transform":[{"filter":"datum.p === 'f'"}],"mark":{"type":"line","color":"#1a1a1a","strokeWidth":1.1}},
{"data":{"name":"fit"},"transform":[{"filter":"datum.p === 'f'"},{"fold":["g","b","s","r"],"as":["k","v"]}],"mark":{"type":"line","strokeWidth":1.4,"interpolate":"monotone"},
"encoding":{"color":{"field":"k","type":"nominal","scale":{"domain":["g","b","s","r"],"range":["#7fe0a0","#3d4fe0","#c85ae0","#ff2a5a"]},"legend":null}}},
{"data":{"values":[{"e":409.57,"v":144.7,"n":"f"}]},"mark":{"type":"text","align":"left","baseline":"alphabetic","fontSize":28,"fontWeight":"bold","color":"#000"},"encoding":{"text":{"field":"n"}}}
]}
],"spacing":25,"resolve":{"scale":{"color":"independent"}}},
{"vconcat":[
{"width":235,"height":172,
"encoding":{"x":{"field":"e","type":"quantitative","scale":{"domain":[409,390],"nice":false,"zero":false},"axis":{"values":[407.5,405,402.5,400,397.5,395,392.5,390],"labelExpr":"datum.value % 5 === 0 ? datum.label : ''"},"title":"Binding energy (eV)"},
"y":{"field":"v","type":"quantitative","scale":{"domain":[0,172.3],"nice":false,"zero":false},"title":"Intensity (a.u.)"}},
"layer":[
{"data":{"name":"raw"},"transform":[{"filter":"datum.p === 'd'"}],"mark":{"type":"line","color":"#1a1a1a","strokeWidth":1.1}},
{"data":{"name":"fit"},"transform":[{"filter":"datum.p === 'd'"},{"fold":["g","b","s","r"],"as":["k","v"]}],"mark":{"type":"line","strokeWidth":1.4,"interpolate":"monotone"},
"encoding":{"color":{"field":"k","type":"nominal","scale":{"domain":["g","b","s","r"],"range":["#7fe0a0","#3d4fe0","#c85ae0","#ff2a5a"]},"legend":null}}},
{"data":{"values":[{"e":411.18,"v":152.3,"n":"d"}]},"mark":{"type":"text","align":"left","baseline":"alphabetic","fontSize":28,"fontWeight":"bold","color":"#000"},"encoding":{"text":{"field":"n"}}}
]},
{"width":236,"height":173,
"encoding":{"x":{"field":"e","type":"quantitative","scale":{"domain":[408.9,392.6],"nice":false,"zero":false},"axis":{"values":[407.5,405,402.5,400,397.5,395],"labelExpr":"datum.value % 5 === 0 ? datum.label : ''"},"title":"Binding energy (eV)"},
"y":{"field":"v","type":"quantitative","scale":{"domain":[0,173.3],"nice":false,"zero":false},"title":"Intensity (a.u.)"}},
"layer":[
{"data":{"name":"raw"},"transform":[{"filter":"datum.p === 'g'"}],"mark":{"type":"line","color":"#1a1a1a","strokeWidth":1.1}},
{"data":{"name":"fit"},"transform":[{"filter":"datum.p === 'g'"},{"fold":["g","b","s","r"],"as":["k","v"]}],"mark":{"type":"line","strokeWidth":1.4,"interpolate":"monotone"},
"encoding":{"color":{"field":"k","type":"nominal","scale":{"domain":["g","b","s","r"],"range":["#7fe0a0","#3d4fe0","#c85ae0","#ff2a5a"]},"legend":null}}},
{"data":{"values":[{"e":410.83,"v":148.3,"n":"g"}]},"mark":{"type":"text","align":"left","baseline":"alphabetic","fontSize":28,"fontWeight":"bold","color":"#000"},"encoding":{"text":{"field":"n"}}}
]}
],"spacing":25,"resolve":{"scale":{"color":"independent"}}},
{"vconcat":[
{"width":235,"height":172,
"encoding":{"x":{"field":"e","type":"quantitative","scale":{"domain":[408.84,392.45],"nice":false,"zero":false},"axis":{"values":[407.5,405,402.5,400,397.5,395,392.5],"labelExpr":"datum.value % 5 === 0 ? datum.label : ''"},"title":"Binding energy (eV)"},
"y":{"field":"v","type":"quantitative","scale":{"domain":[0,172.3],"nice":false,"zero":false},"title":"Intensity (a.u.)"}},
"layer":[
{"data":{"name":"raw"},"transform":[{"filter":"datum.p === 'e'"}],"mark":{"type":"line","color":"#1a1a1a","strokeWidth":1.1}},
{"data":{"name":"fit"},"transform":[{"filter":"datum.p === 'e'"},{"fold":["g","b","s","r"],"as":["k","v"]}],"mark":{"type":"line","strokeWidth":1.4,"interpolate":"monotone"},
"encoding":{"color":{"field":"k","type":"nominal","scale":{"domain":["g","b","s","r"],"range":["#7fe0a0","#3d4fe0","#c85ae0","#ff2a5a"]},"legend":null}}},
{"data":{"values":[{"e":410.44,"v":150.3,"n":"e"}]},"mark":{"type":"text","align":"left","baseline":"alphabetic","fontSize":28,"fontWeight":"bold","color":"#000"},"encoding":{"text":{"field":"n"}}}
]},
{"width":235,"height":173,
"encoding":{"x":{"field":"e","type":"quantitative","scale":{"domain":[409.05,392.46],"nice":false,"zero":false},"axis":{"values":[407.5,405,402.5,400,397.5,395,392.5],"labelExpr":"datum.value % 5 === 0 ? datum.label : ''"},"title":"Binding energy (eV)"},
"y":{"field":"v","type":"quantitative","scale":{"domain":[0,173.3],"nice":false,"zero":false},"title":"Intensity (a.u.)"}},
"layer":[
{"data":{"name":"raw"},"transform":[{"filter":"datum.p === 'h'"}],"mark":{"type":"line","color":"#1a1a1a","strokeWidth":1.1}},
{"data":{"name":"fit"},"transform":[{"filter":"datum.p === 'h'"},{"fold":["g","b","s","r"],"as":["k","v"]}],"mark":{"type":"line","strokeWidth":1.4,"interpolate":"monotone"},
"encoding":{"color":{"field":"k","type":"nominal","scale":{"domain":["g","b","s","r"],"range":["#7fe0a0","#3d4fe0","#c85ae0","#ff2a5a"]},"legend":null}}},
{"data":{"values":[{"e":410.74,"v":146.3,"n":"h"}]},"mark":{"type":"text","align":"left","baseline":"alphabetic","fontSize":28,"fontWeight":"bold","color":"#000"},"encoding":{"text":{"field":"n"}}}
]}
],"spacing":25,"resolve":{"scale":{"color":"independent"}}}
],"spacing":2,"resolve":{"scale":{"color":"independent"}}}
]
}
